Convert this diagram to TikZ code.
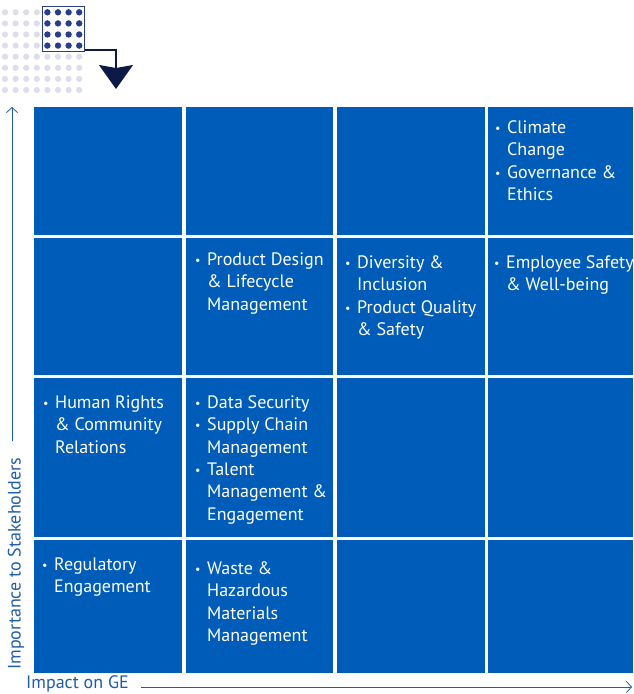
\documentclass[tikz,border=0pt]{standalone}
\usepackage{fontspec}
\setmainfont{PT Sans}
\usetikzlibrary{arrows.meta}

\definecolor{geblue}{RGB}{0,92,185}
\definecolor{axisblue}{RGB}{30,92,172}
\definecolor{dotgrey}{RGB}{221,222,234}
\definecolor{dotnavy}{RGB}{40,62,140}
\definecolor{arrownavy}{RGB}{12,26,70}

% first line of a bullet item, and a line hanging under its text
\newcommand\itm[1]{\rule{0pt}{14pt}\makebox[12pt][l]{\raisebox{1pt}{\fontsize{12}{12}\selectfont\textbullet}}#1}
\newcommand\hng[1]{\rule{0pt}{14pt}\makebox[12pt]{}#1}

\tikzset{
  cell/.style={fill=geblue, anchor=north west, inner sep=0pt},
  topics/.style={anchor=north west, inner sep=0pt, text=white, align=left,
    font=\fontsize{18}{22.4}\selectfont},
  axislabel/.style={text=axisblue, inner sep=0pt, font=\fontsize{18}{20}\selectfont},
  axisline/.style={axisblue, line width=0.8pt, -{Straight Barb[length=5pt,width=11pt]}},
}

\begin{document}
\begin{tikzpicture}[x=1pt, y=-1pt]
    \useasboundingbox (0,0) rectangle (633,694);

    % dot pattern with the framed block and the arrow
    \foreach \i in {0,...,7}
        \foreach \j in {0,...,7}
            \fill[dotgrey] (5+10.6*\i, 12.3+11.1*\j) circle (3.1pt);
    \node[draw=dotnavy, fill=white, line width=1pt, inner sep=0pt,
        minimum width=42pt, minimum height=45pt] (frame) at (63,28.5) {};
    \foreach \i in {4,...,7}
        \foreach \j in {0,...,3}
            \fill[dotnavy] (5+10.6*\i, 12.3+11.1*\j) circle (3.2pt);
    \coordinate (tip) at (116,89);
    \draw[arrownavy, line width=1.3pt, -{Stealth[length=24pt, width=34pt, inset=3pt]}]
        ([yshift=1.5pt]frame.south east) -| (tip);

    % the 4x4 grid of cells
    \foreach \cx/\cw [count=\i] in {34/148, 186/147, 337/148, 488/145}
        \foreach \ry/\rh [count=\j] in {107/128, 238/137, 378/159, 540/133}
            \node[cell, minimum width=\cw pt, minimum height=\rh pt] (c\j\i) at (\cx,\ry) {};

    % topics
    \node[topics] (t14) at (495,119) {\itm{Climate}\\ \hng{Change}\\
        \itm{Governance \&}\\ \hng{Ethics}};
    \node[topics] (t22) at (195,251) {\itm{Product Design}\\ \hng{\& Lifecycle}\\ \hng{Management}};
    \node[topics] (t23) at (345,254) {\itm{Diversity \&}\\ \hng{Inclusion}\\
        \itm{Product Quality}\\ \hng{\& Safety}};
    \node[topics] (t24) at (494,254) {\itm{Employee Safety}\\ \hng{\& Well-being}};
    \node[topics] (t31) at (43,394) {\itm{Human Rights}\\ \hng{\& Community}\\ \hng{Relations}};
    \node[topics] (t32) at (195,394) {\itm{Data Security}\\
        \itm{Supply Chain}\\ \hng{Management}\\
        \itm{Talent}\\ \hng{Management \&}\\ \hng{Engagement}};
    \node[topics] (t41) at (42,556) {\itm{Regulatory}\\ \hng{Engagement}};
    \node[topics] (t42) at (195,560) {\itm{Waste \&}\\ \hng{Hazardous}\\ \hng{Materials}\\ \hng{Management}};

    % axes
    \node[axislabel, rotate=90, anchor=west] (ylabel) at (16,670) {Importance to Stakeholders};
    \node[axislabel, anchor=west] (xlabel) at (26,684) {Impact on GE};
    \coordinate (ytop) at (12,107);
    \coordinate (xend) at (632,687);
    \draw[axisline] ([yshift=16pt]ylabel.east -| ytop) -- (ytop);
    \draw[axisline] ([xshift=12pt]xlabel.east |- xend) -- (xend);
\end{tikzpicture}
\end{document}
